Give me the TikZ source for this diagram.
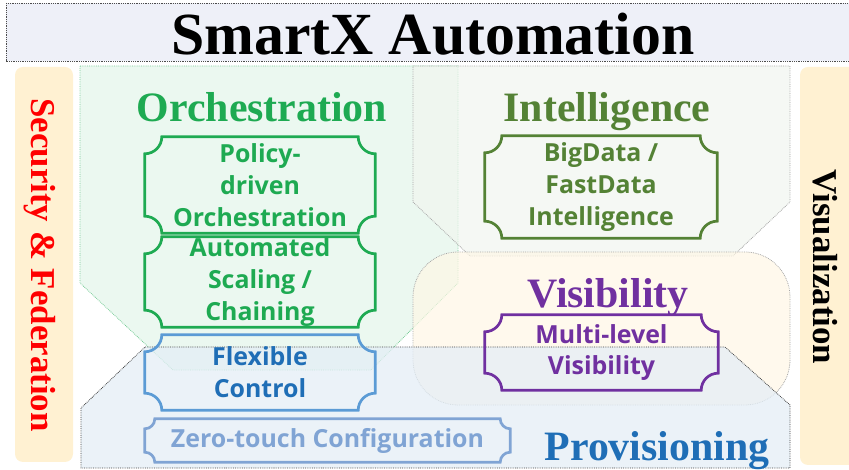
\documentclass[tikz,border=0pt]{standalone}
\usepackage{fontspec}
\setmainfont{Liberation Serif}
\newfontfamily\boxfont{Open Sans}

\definecolor{orchgreen}{RGB}{30,170,82}
\definecolor{intgreen}{RGB}{84,130,53}
\definecolor{vispurple}{RGB}{112,48,160}
\definecolor{provblue}{RGB}{31,110,182}
\definecolor{ctrlblue}{RGB}{91,155,213}
\definecolor{zeroblue}{RGB}{128,164,212}
\definecolor{barcream}{RGB}{255,241,210}
\definecolor{bannerfill}{RGB}{238,240,248}

\newcommand{\BoxR}{17bp}
\newcommand{\SmallR}{10bp}
% concave-cornered frame round a named node
\newcommand{\plaque}[3][]{%
  \draw[#1] ([xshift=#3]#2.north west) -- ([xshift=-#3]#2.north east)
    arc[start angle=180,end angle=270,radius=#3] -- ([yshift=#3]#2.south east)
    arc[start angle=90,end angle=180,radius=#3] -- ([xshift=#3]#2.south west)
    arc[start angle=0,end angle=90,radius=#3] -- ([yshift=-#3]#2.north west)
    arc[start angle=-90,end angle=0,radius=#3] -- cycle;}

\begin{document}
\begin{tikzpicture}[
  x=1bp, y=1bp,
  region/.style={densely dotted, line width=0.8bp},
  heading/.style={font=\fontsize{42}{46}\selectfont\bfseries, anchor=base, inner sep=0},
  item/.style={font=\boxfont\fontsize{25}{32}\selectfont\bfseries, align=center, inner sep=0},
  frame/.style={line width=2.7bp},
  sidebar/.style={rounded corners=8bp, fill=barcream}
  ]
  \useasboundingbox (0,0) rectangle (849,470);

	%draw the side bars and the banner
	\fill[sidebar] (15,403) rectangle (73,8);
	\fill[sidebar] (800,403) rectangle (870,5);
	\draw[region, fill=bannerfill, draw=black!70] (6,467) rectangle (870,409);

	% Draw the domains
	\draw[region, draw=orchgreen!60, fill=orchgreen!11, fill opacity=.8]
		(80,404) -- (458,404) -- (458,187) -- (371,100) -- (173,100) -- (80,187) -- cycle;
	\draw[region, draw=black!35, fill=intgreen!8, fill opacity=.7]
		(413,404) -- (790,404) -- (790,268) -- (733,214) -- (470,214) -- (413,268) -- cycle;
	\draw[region, draw=black!35, fill=barcream!55, fill opacity=.7, rounded corners=45bp]
		(413,218) rectangle (790,65);
	\draw[region, draw=black!75, fill=provblue!12, fill opacity=.75]
		(145,123) -- (725,123) -- (790,65) -- (790,2) -- (81,2) -- (81,62) -- cycle;

	%draw the headings
	\node[font=\fontsize{60}{66}\selectfont\bfseries, anchor=base, inner sep=0] (title) at (433,415) {SmartX Automation};
	\node[heading, text=orchgreen] (orch) at (262,348) {Orchestration};
	\node[heading, text=intgreen] (intel) at (607,348) {Intelligence};
	\node[heading, text=vispurple] (visib) at (608,162) {Visibility};
	\node[heading, text=provblue] (prov) at (657,9) {Provisioning};
	\node[font=\fontsize{35}{40}\selectfont\bfseries, text=red, rotate=-90] (secfed) at (40,205) {Security \& Federation};
	\node[font=\fontsize{35}{40}\selectfont\bfseries, rotate=-90] (visual) at (825,203) {Visualization};

	%draw the boxes
	\node[item, text=orchgreen, minimum width=230bp, minimum height=96bp] (policy) at (260,285) {Policy-\\driven\\Orchestration};
	\node[item, text=orchgreen, minimum width=230bp, minimum height=90bp] (scaling) at (260,188) {Automated\\Scaling /\\Chaining};
	\node[item, text=provblue, minimum width=230bp, minimum height=75bp] (flex) at (260,97.5) {Flexible\\Control};
	\node[item, text=zeroblue, minimum width=365bp, minimum height=43bp] (zero) at (327.5,29.5) {Zero-touch Configuration};
	\node[item, text=intgreen, minimum width=232bp, minimum height=102bp] (bigdata) at (601,283) {BigData /\\FastData\\Intelligence};
	\node[item, text=vispurple, minimum width=233bp, minimum height=75bp] (multi) at (601.5,117.5) {Multi-level\\Visibility};

	\plaque[frame, orchgreen]{policy}{\BoxR}
	\plaque[frame, orchgreen]{scaling}{\BoxR}
	\plaque[frame, ctrlblue]{flex}{\BoxR}
	\plaque[frame, zeroblue]{zero}{\SmallR}
	\plaque[frame, intgreen]{bigdata}{\BoxR}
	\plaque[frame, vispurple]{multi}{\BoxR}

\end{tikzpicture}
\end{document}
